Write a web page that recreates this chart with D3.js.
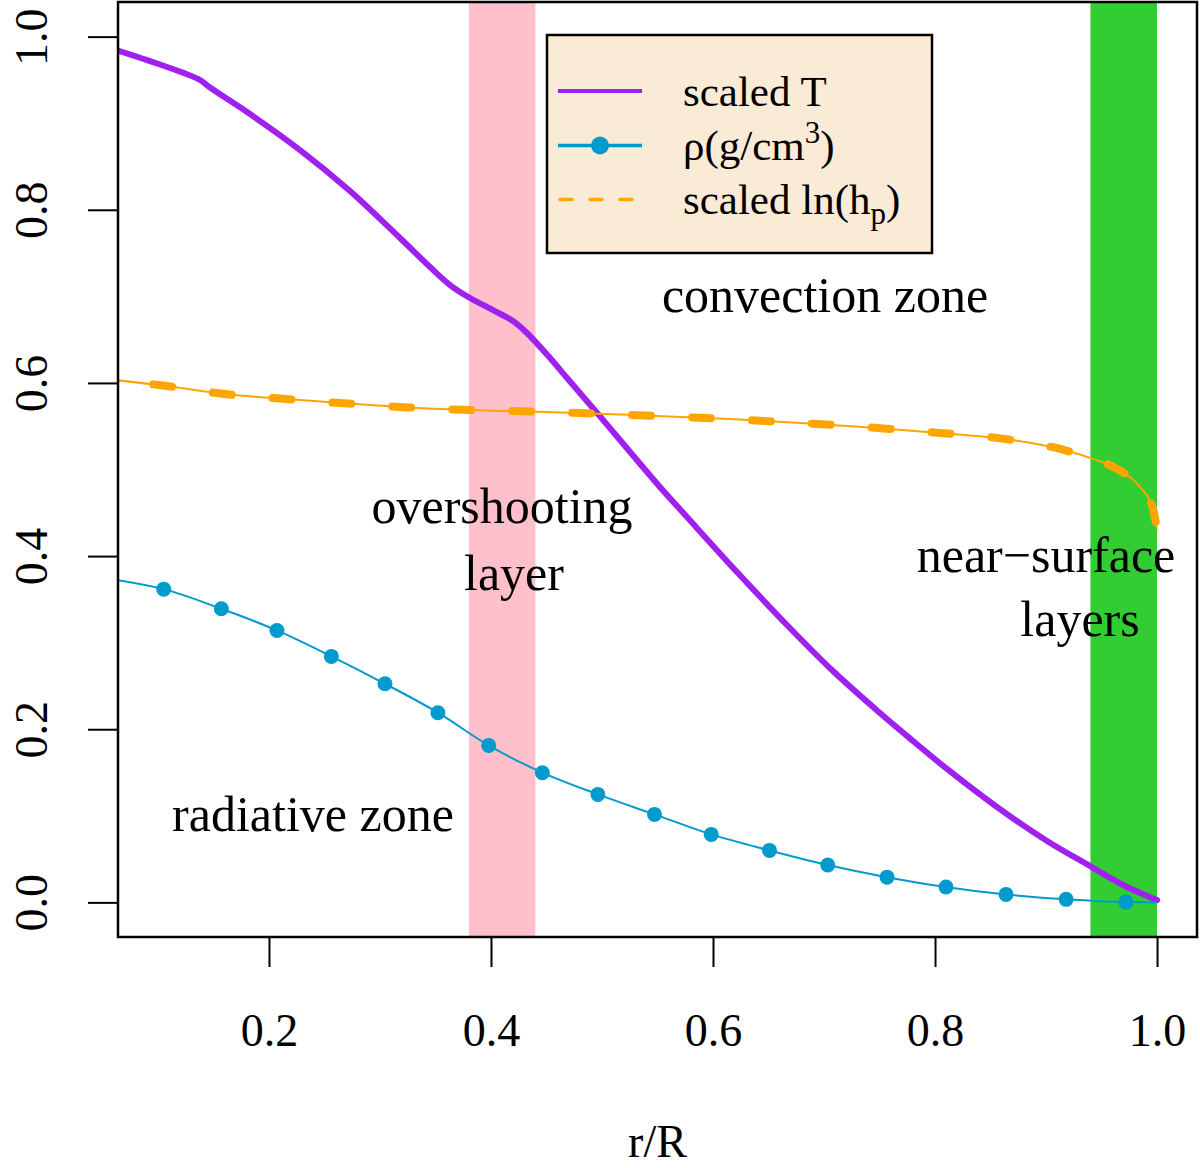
<!DOCTYPE html>
<html>
<head>
<meta charset="utf-8">
<script src="https://cdn.jsdelivr.net/npm/d3@7"></script>
<style>
  html, body { margin: 0; padding: 0; background: #ffffff; }
  svg { display: block; font-family: "Liberation Serif", "Times New Roman", serif; }
</style>
</head>
<body>
<svg id="chart" width="1200" height="1168"></svg>
<script>
// ---------------- data ----------------
const xTicks = [0.2, 0.4, 0.6, 0.8, 1.0];
const yTicks = [0.0, 0.2, 0.4, 0.6, 0.8, 1.0];

// scaled temperature
const tempR = [0.060, 0.1018, 0.1379, 0.1469, 0.1829, 0.2280, 0.2730, 0.3180, 0.3451, 0.3631, 0.3811, 0.4018, 0.4198, 0.4324, 0.4532, 0.4685, 0.4964, 0.5162, 0.5522, 0.5766, 0.6216, 0.6666, 0.7081, 0.7504, 0.7802, 0.8108, 0.8558, 0.9009, 0.9396, 0.9693, 1.000];
const tempV = [0.9855, 0.9678, 0.9499, 0.9412, 0.9106, 0.8690, 0.8217, 0.7674, 0.7339, 0.7131, 0.6981, 0.6842, 0.6715, 0.6577, 0.6288, 0.6057, 0.5641, 0.5341, 0.4798, 0.4451, 0.3816, 0.3204, 0.2672, 0.2187, 0.1864, 0.1541, 0.1102, 0.0709, 0.0420, 0.0201, 0.0027];

// density: curve (first and last values are the curve ends, the rest carry markers)
const rhoR = [0.060, 0.1052, 0.1571, 0.2072, 0.2562, 0.3045, 0.3522, 0.3979, 0.4463, 0.4963, 0.5473, 0.5984, 0.6509, 0.7034, 0.7568, 0.8099, 0.8640, 0.9181, 0.9720, 1.000];
const rhoV = [0.373, 0.3618, 0.3391, 0.3141, 0.2841, 0.2525, 0.2191, 0.1813, 0.1498, 0.1247, 0.1016, 0.0785, 0.0600, 0.0432, 0.0291, 0.0177, 0.0092, 0.0035, 0.0003, 0.000];

// scaled ln(hp)
const hpR = [0.060, 0.1045, 0.1586, 0.2126, 0.2667, 0.3207, 0.3747, 0.4287, 0.5158, 0.6509, 0.7560, 0.8100, 0.8640, 0.9181, 0.9390, 0.9631, 0.9840, 0.9960, 1.000];
const hpV = [0.6035, 0.597, 0.5874, 0.5816, 0.5766, 0.5720, 0.5689, 0.5673, 0.5635, 0.5558, 0.5472, 0.5417, 0.5351, 0.5219, 0.5137, 0.5013, 0.4807, 0.4561, 0.4312];

// shaded zones
const bandNames = ["overshooting", "near-surface"];
const bandStart = [0.38, 0.94];
const bandEnd = [0.44, 1.00];
const bandColors = ["#FFC0CB", "#32CD32"];

// legend
const legendLabels = ["scaled T", "rho", "hp"];
const seriesColors = {T: "#A020F0", rho: "#009ACD", hp: "#FFA500"};

// ---------------- layout ----------------
const svg = d3.select("#chart");
const W = 1200, H = 1168;
const plot = {left: 118, right: 1197, top: 2, bottom: 937};

svg.append("rect").attr("width", W).attr("height", H).attr("fill", "#ffffff");

const xlim = [0.1, 1.0], ylim = [0, 1];
const xPad = (xlim[1] - xlim[0]) * 0.04, yPad = (ylim[1] - ylim[0]) * 0.04;
const x = d3.scaleLinear().domain([xlim[0] - xPad, xlim[1] + xPad]).range([plot.left, plot.right]);
const y = d3.scaleLinear().domain([ylim[0] - yPad, ylim[1] + yPad]).range([plot.bottom, plot.top]);

svg.append("clipPath").attr("id", "clip")
  .append("rect")
  .attr("x", plot.left).attr("y", plot.top)
  .attr("width", plot.right - plot.left).attr("height", plot.bottom - plot.top);

const g = svg.append("g").attr("clip-path", "url(#clip)");

// bands
g.selectAll("rect.band").data(bandNames).enter().append("rect")
  .attr("class", "band")
  .attr("x", (d, i) => x(bandStart[i]))
  .attr("width", (d, i) => x(bandEnd[i]) - x(bandStart[i]))
  .attr("y", plot.top).attr("height", plot.bottom - plot.top)
  .attr("fill", (d, i) => bandColors[i]);

const line = d3.line().x(d => x(d[0])).y(d => y(d[1])).curve(d3.curveMonotoneX);
const smoothLine = d3.line().x(d => x(d[0])).y(d => y(d[1])).curve(d3.curveCatmullRom.alpha(0.5));

// temperature
const tempData = tempR.map((r, i) => [r, tempV[i]]);
g.append("path").attr("d", smoothLine(tempData))
  .attr("fill", "none").attr("stroke", seriesColors.T)
  .attr("stroke-width", 6).attr("stroke-linejoin", "round").attr("stroke-linecap", "round");

// density
const rhoData = rhoR.map((r, i) => [r, rhoV[i]]);
g.append("path").attr("d", line(rhoData))
  .attr("fill", "none").attr("stroke", seriesColors.rho).attr("stroke-width", 2);
g.selectAll("circle.rho").data(rhoData.slice(1, -1)).enter().append("circle")
  .attr("class", "rho")
  .attr("cx", d => x(d[0])).attr("cy", d => y(d[1])).attr("r", 7.5)
  .attr("fill", seriesColors.rho);

// ln hp
const hpData = hpR.map((r, i) => [r, hpV[i]]);
g.append("path").attr("d", line(hpData))
  .attr("fill", "none").attr("stroke", seriesColors.hp).attr("stroke-width", 2);
g.append("path").attr("d", line(hpData))
  .attr("fill", "none").attr("stroke", seriesColors.hp).attr("stroke-width", 8)
  .attr("stroke-linecap", "round")
  .attr("stroke-dasharray", "19 41").attr("stroke-dashoffset", 20);

// annotations
const annot = [
  {t: "convection zone", x: 825, y: 312},
  {t: "overshooting", x: 502, y: 523},
  {t: "layer", x: 514, y: 590},
  {t: "near\u2212surface", x: 1046, y: 572},
  {t: "layers", x: 1080, y: 636},
  {t: "radiative zone", x: 313, y: 831}
];
svg.selectAll("text.annot").data(annot).enter().append("text")
  .attr("class", "annot")
  .attr("x", d => d.x).attr("y", d => d.y)
  .attr("text-anchor", "middle").attr("font-size", 50).attr("fill", "#000")
  .text(d => d.t);

// axes
const xAxis = d3.axisBottom(x).tickValues(xTicks).tickSize(30).tickFormat(d3.format(".1f"));
const xg = svg.append("g").attr("transform", `translate(0,${plot.bottom})`).call(xAxis);
xg.select(".domain").remove();
xg.selectAll("line").attr("stroke", "#000").attr("stroke-width", 2);
xg.selectAll("text").attr("y", 109).attr("dy", null)
  .attr("font-size", 46).attr("font-family", "Liberation Serif, serif").attr("fill", "#000");

const yAxis = d3.axisLeft(y).tickValues(yTicks).tickSize(30).tickFormat(d3.format(".1f"));
const yg = svg.append("g").attr("transform", `translate(${plot.left},0)`).call(yAxis);
yg.select(".domain").remove();
yg.selectAll("line").attr("stroke", "#000").attr("stroke-width", 2);
yg.selectAll("text")
  .attr("x", null).attr("dy", null)
  .attr("transform", `translate(${47 - plot.left},0) rotate(-90)`)
  .attr("text-anchor", "middle")
  .attr("font-size", 46).attr("font-family", "Liberation Serif, serif").attr("fill", "#000");

// axis title
svg.append("text").attr("x", (x(xlim[0]) + x(xlim[1])) / 2).attr("y", 1157)
  .attr("text-anchor", "middle").attr("font-size", 46).text("r/R");

// box
svg.append("rect")
  .attr("x", plot.left).attr("y", plot.top)
  .attr("width", plot.right - plot.left).attr("height", plot.bottom - plot.top)
  .attr("fill", "none").attr("stroke", "#000").attr("stroke-width", 2.5);

// legend
const lg = svg.append("g");
lg.append("rect").attr("x", 547).attr("y", 35).attr("width", 385).attr("height", 218)
  .attr("fill", "#FAEBD7").attr("stroke", "#000").attr("stroke-width", 2.5);
const rowY = [91, 145.5, 199.5];
const lx0 = 558, lx1 = 642, tx = 683;
// row 1
lg.append("line").attr("x1", lx0).attr("x2", lx1).attr("y1", rowY[0]).attr("y2", rowY[0])
  .attr("stroke", seriesColors.T).attr("stroke-width", 4);
// row 2
lg.append("line").attr("x1", lx0).attr("x2", lx1).attr("y1", rowY[1]).attr("y2", rowY[1])
  .attr("stroke", seriesColors.rho).attr("stroke-width", 3.5);
lg.append("circle").attr("cx", (lx0 + lx1) / 2).attr("cy", rowY[1]).attr("r", 9)
  .attr("fill", seriesColors.rho);
// row 3
lg.append("line").attr("x1", lx0 + 2).attr("x2", lx1).attr("y1", rowY[2]).attr("y2", rowY[2])
  .attr("stroke", seriesColors.hp).attr("stroke-width", 3.5)
  .attr("stroke-linecap", "round").attr("stroke-dasharray", "12 18");

const lf = 43;
lg.append("text").attr("x", tx).attr("y", rowY[0] + 14.5).attr("font-size", lf).text(legendLabels[0]);
const t2 = lg.append("text").attr("x", tx).attr("y", rowY[1] + 14.5).attr("font-size", lf);
t2.append("tspan").text("\u03C1(g/cm");
t2.append("tspan").attr("font-size", 31).attr("dy", -17).text("3");
t2.append("tspan").attr("dy", 17).text(")");
const t3 = lg.append("text").attr("x", tx).attr("y", rowY[2] + 14.5).attr("font-size", lf);
t3.append("tspan").text("scaled ln(h");
t3.append("tspan").attr("font-size", 31).attr("dy", 10).text("p");
t3.append("tspan").attr("dy", -10).text(")");
</script>
</body>
</html>
